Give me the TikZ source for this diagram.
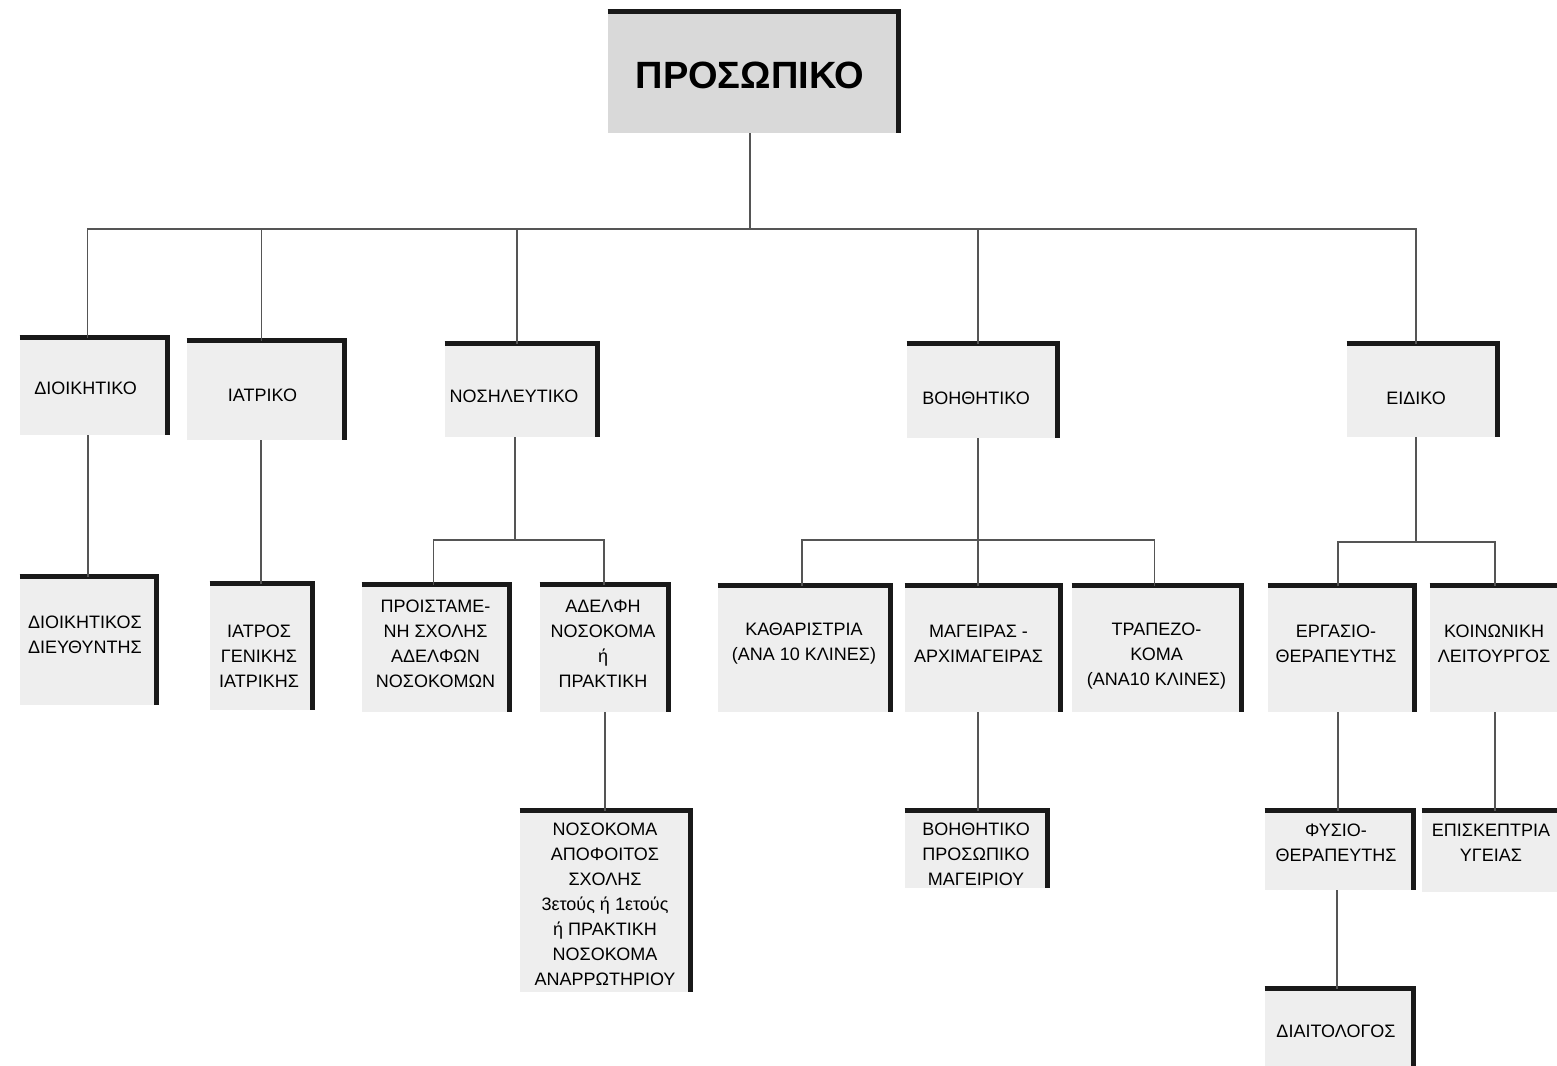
\documentclass[tikz,border=0pt]{standalone}
\usepackage{fontspec}
\setmainfont{Liberation Sans}
\definecolor{boxfill}{HTML}{EEEEEE}
\definecolor{titlefill}{HTML}{D9D9D9}
\definecolor{linegray}{HTML}{555555}
\tikzset{
  cbox/.style={rectangle, fill=boxfill, inner sep=0pt},
  titlebox/.style={cbox, fill=titlefill},
  ctext/.style={inner sep=0pt, align=center, font=\fontsize{9}{12.5}\selectfont},
  titletext/.style={inner sep=0pt, font=\fontsize{19}{22}\bfseries\selectfont},
  edge/.style={draw=linegray, line width=0.6pt},
  shadeline/.style={draw=black!90, line width=2.4pt, line join=miter}
}
% \obox[style]{name}{left}{top}{right}{bottom}{dx}{dy}{text}
\newcommand\obox[9][cbox]{%
  \pgfmathsetmacro\obw{(#5-#3)*0.5}\pgfmathsetmacro\obh{(#6-#4)*0.5}%
  \node[#1, minimum width=\obw pt, minimum height=\obh pt] (#2) at ({(#3+#5)/2},{(#4+#6)/2}) {};%
  \draw[shadeline] (#2.north west) -- (#2.north east) -- (#2.south east);%
  \node[ctext] (#2-t) at ({(#3+#5)/2+#7},{(#4+#6)/2+#8}) {#9};}
\begin{document}
\begin{tikzpicture}[x=0.5pt,y=-0.5pt]
\useasboundingbox (0,0) rectangle (1557,1065);
% title
\obox[titlebox]{top}{608}{12}{898}{133}{-3}{3}{\fontsize{19}{22}\bfseries\selectfont ΠΡΟΣΩΠΙΚΟ}
% level 2
\obox{dioik}{20}{338}{167}{435}{-8}{2}{ΔΙΟΙΚΗΤΙΚΟ}
\obox{iatr}{187}{341}{344}{440}{-3}{5}{ΙΑΤΡΙΚΟ}
\obox{nos}{445}{344}{597}{437}{-7}{6}{ΝΟΣΗΛΕΥΤΙΚΟ}
\obox{voi}{907}{344}{1057}{438}{-6}{7}{ΒΟΗΘΗΤΙΚΟ}
\obox{eid}{1347}{344}{1497}{437}{-6}{8}{ΕΙΔΙΚΟ}
% level 3
\obox{dd}{20}{577}{156}{705}{-3}{-6}{ΔΙΟΙΚΗΤΙΚΟΣ\\ΔΙΕΥΘΥΝΤΗΣ}
\obox{ig}{210}{584}{312}{710}{-2}{9}{ΙΑΤΡΟΣ\\ΓΕΝΙΚΗΣ\\ΙΑΤΡΙΚΗΣ}
\obox{prois}{362}{585}{509}{712}{0}{-5}{ΠΡΟΙΣΤΑΜΕ-\\ΝΗ ΣΧΟΛΗΣ\\ΑΔΕΛΦΩΝ\\ΝΟΣΟΚΟΜΩΝ}
\obox{adel}{540}{585}{668}{712}{-1}{-5}{ΑΔΕΛΦΗ\\ΝΟΣΟΚΟΜΑ\\ή\\ΠΡΑΚΤΙΚΗ}
\obox{kath}{718}{586}{890}{712}{0}{-5}{ΚΑΘΑΡΙΣΤΡΙΑ\\(ΑΝΑ 10 ΚΛΙΝΕΣ)}
\obox{mag}{905}{586}{1060}{712}{-4}{-5}{ΜΑΓΕΙΡΑΣ -\\ΑΡΧΙΜΑΓΕΙΡΑΣ}
\obox{trap}{1072}{586}{1241}{712}{0}{7}{ΤΡΑΠΕΖΟ-\\ΚΟΜΑ\\(ΑΝΑ10 ΚΛΙΝΕΣ)}
\obox{erg}{1268}{586}{1414}{712}{-5}{-5}{ΕΡΓΑΣΙΟ-\\ΘΕΡΑΠΕΥΤΗΣ}
\obox{koin}{1430}{586}{1560}{712}{-1}{-5}{ΚΟΙΝΩΝΙΚΗ\\ΛΕΙΤΟΥΡΓΟΣ}
% level 4
\obox{nosok}{520}{811}{690}{992}{0}{3}{ΝΟΣΟΚΟΜΑ\\ΑΠΟΦΟΙΤΟΣ\\ΣΧΟΛΗΣ\\3ετούς ή 1ετούς\\ή ΠΡΑΚΤΙΚΗ\\ΝΟΣΟΚΟΜΑ\\ΑΝΑΡΡΩΤΗΡΙΟΥ}
\obox{bpm}{905}{811}{1047}{888}{0}{5}{ΒΟΗΘΗΤΙΚΟ\\ΠΡΟΣΩΠΙΚΟ\\ΜΑΓΕΙΡΙΟΥ}
\obox{fys}{1265}{811}{1413}{890}{-3}{-8}{ΦΥΣΙΟ-\\ΘΕΡΑΠΕΥΤΗΣ}
\obox{epis}{1422}{811}{1560}{892}{0}{-9}{ΕΠΙΣΚΕΠΤΡΙΑ\\ΥΓΕΙΑΣ}
\obox{diait}{1265}{989}{1413}{1068}{-3}{3}{ΔΙΑΙΤΟΛΟΓΟΣ}
% connectors
\coordinate (bus) at (750,229);
\coordinate (jn) at (515,540);
\coordinate (jv) at (978,540);
\coordinate (je) at (1416,542);
\draw[edge] (bus |- top.south) -- (bus);
\draw[edge] ([xshift=-3pt]dioik.north) |- (bus);
\draw[edge] ([xshift=-2pt]iatr.north) |- (bus);
\draw[edge] ([xshift=-2pt]nos.north) |- (bus);
\draw[edge] ([xshift=-2pt]voi.north) |- (bus);
\draw[edge] ([xshift=-3pt]eid.north) |- (bus);
\draw[edge] (dd.north) -- (dd.north |- dioik.south);
\draw[edge] (ig.north) -- (ig.north |- iatr.south);
\draw[edge] (jn |- nos.south) -- (jn);
\draw[edge] ([xshift=-1pt]prois.north) |- (jn) -| (adel.north);
\draw[edge] (nosok.north) -- (nosok.north |- adel.south);
\draw[edge] (jv |- voi.south) -- (jv);
\draw[edge] ([xshift=-1pt]kath.north) |- (jv) -| ([xshift=-1pt]trap.north);
\draw[edge] (jv) -- (jv |- mag.north);
\draw[edge] (jv |- mag.south) -- (jv |- bpm.north);
\draw[edge] (je |- eid.south) -- (je);
\draw[edge] ([xshift=-1.5pt]erg.north) |- (je) -| (koin.north);
\draw[edge] ([xshift=-1.5pt]erg.south) -- ([xshift=-1.5pt]erg.south |- fys.north);
\draw[edge] (koin.south) -- (koin.south |- epis.north);
\draw[edge] ([xshift=-1pt]fys.south) -- ([xshift=-1pt]fys.south |- diait.north);
\end{tikzpicture}
\end{document}
